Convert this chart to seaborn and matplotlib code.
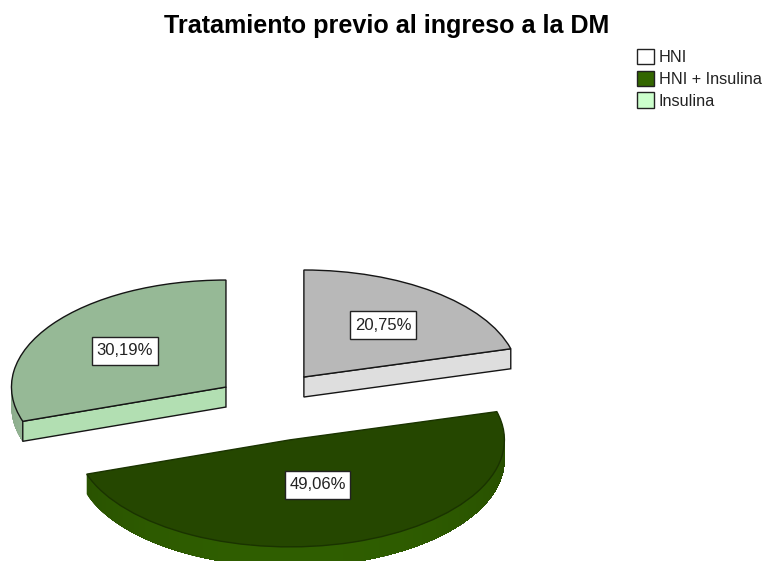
# -*- coding: utf-8 -*-
import numpy as np
import matplotlib
matplotlib.use("Agg")
import matplotlib.pyplot as plt
from matplotlib.colors import to_rgb
from matplotlib.patches import Patch
import seaborn as sns

#data
categories = ["HNI", "HNI + Insulina", "Insulina"]
percentages = [20.75, 49.06, 30.19]

#colours
legend_colors = ["#ffffff", "#336600", "#ccffcc"]
top_colors = ["#b8b8b8", "#254700", "#96b996"]
edge_colors = ["#151515", "#1a3300", "#151515"]
cut_colors = ["#dedede", "#254700", "#b2dfb2"]
rim_colors = ["#a8a8a8", "#2f5e00", "#a8cea8"]

#pie layout, in pixels of the final image
explode = [0.288, 0.375, 0.232]
label_dist = [0.61, 0.44, 0.58]
rx, ry = 214.5, 107.0
cx, cy = 266.4, 401.5
depth = 20.0 / ry

sns.set_theme(style="white")
plt.rcParams["font.family"] = ["Liberation Sans", "DejaVu Sans"]

fig = plt.figure(figsize=(7.63, 5.61), dpi=100)
ax = fig.add_axes([0, 0, 1, 1])

wedges, _ = ax.pie(percentages, explode=explode, colors=top_colors, startangle=90,
                   counterclock=False, normalize=True,
                   wedgeprops=dict(linewidth=1.0, zorder=3))
for w, c in zip(wedges, edge_colors):
    w.set_edgecolor(c)
ax.set_aspect("auto")
ax.set_xlim(-cx / rx, (763 - cx) / rx)
ax.set_ylim(-(561 - cy) / ry, cy / ry)


def arc(w, t):
    return w.center[0] + w.r * np.cos(np.radians(t)), w.center[1] + w.r * np.sin(np.radians(t))


#side faces, worked out from the wedges the pie returned
for w, cut_c, rim_c in zip(wedges, cut_colors, rim_colors):
    t = np.linspace(w.theta1, w.theta2, 240)
    t = t[np.sin(np.radians(t)) < 0]
    #rim gets lighter towards the front, each piece overlaps the rest to avoid seams
    for i in range(len(t) - 1):
        x, y = arc(w, t[i:])
        shade = 0.82 + 0.18 * abs(np.sin(np.radians(t[i])))
        c = tuple(v * shade for v in to_rgb(rim_c))
        ax.fill(np.r_[x, x[::-1]], np.r_[y, y[::-1] - depth], facecolor=c, lw=0, zorder=1)
    for edge, normal in [(w.theta1, w.theta1 - 90), (w.theta2, w.theta2 + 90)]:
        if np.sin(np.radians(normal)) < -1e-6:
            x0, y0 = arc(w, edge)
            ax.fill([w.center[0], x0, x0, w.center[0]],
                    [w.center[1], y0, y0 - depth, w.center[1] - depth],
                    facecolor=cut_c, edgecolor="#151515", lw=1.0, zorder=2)

#value labels
for w, pct, d in zip(wedges, percentages, label_dist):
    mid = np.radians((w.theta1 + w.theta2) / 2)
    ax.text(w.center[0] + d * w.r * np.cos(mid), w.center[1] + d * w.r * np.sin(mid),
            f"{pct:.2f}%".replace(".", ","), ha="center", va="center", fontsize=12,
            color="#222222", zorder=5,
            bbox=dict(facecolor="white", edgecolor="#222222", linewidth=1.0,
                      boxstyle="square,pad=0.28", mutation_aspect=1.33))

fig.text(386.5 / 763, 1 - 26 / 561, "Tratamiento previo al ingreso a la DM", ha="center",
         va="center", fontsize=18.1, fontweight="bold", color="black")

handles = [Patch(facecolor=c, edgecolor="#222222", linewidth=1.0) for c in legend_colors]
ax.legend(handles, categories, loc="upper left", bbox_to_anchor=(635 / 763, 1 - 47 / 561),
          bbox_transform=fig.transFigure, frameon=False, fontsize=11.7, handlelength=1.05,
          handleheight=1.05, handletextpad=0.3, labelspacing=0.36, borderpad=0.1,
          borderaxespad=0)
for txt in ax.get_legend().get_texts():
    txt.set_color("#222222")

fig.savefig("out.png", dpi=100)
